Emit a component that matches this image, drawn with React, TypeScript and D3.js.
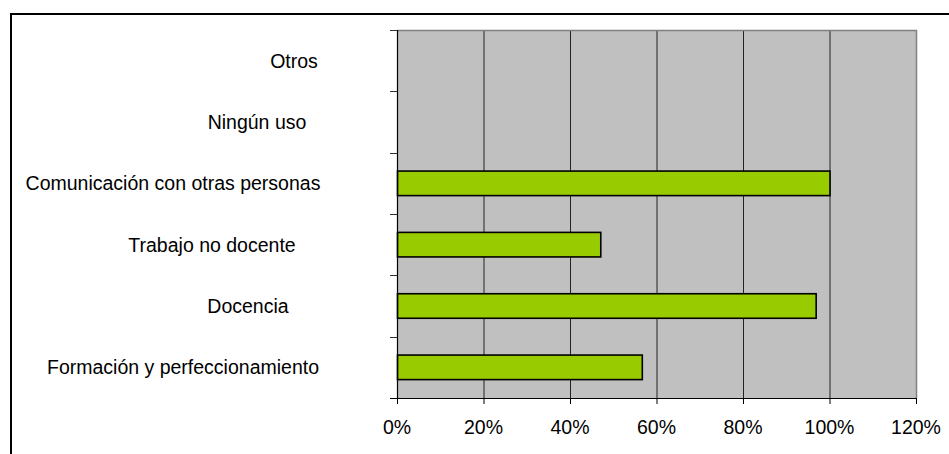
import { useEffect, useRef } from "react";
import * as d3 from "d3";

const categories = [
  "Otros",
  "Ningún uso",
  "Comunicación con otras personas",
  "Trabajo no docente",
  "Docencia",
  "Formación y perfeccionamiento",
];
const values = [0, 0, 100, 47, 96.8, 56.6];
const xTicks = [0, 20, 40, 60, 80, 100, 120];
// Excel-like label shift from common centre (px), layout only
const labelShift = [61, 24, -60, -21, 15, -50];

const W = 949;
const H = 454;
const plot = { left: 397, top: 30, right: 916, bottom: 398 };
const FONT = "'Liberation Sans', Arial, sans-serif";

export default function App() {
  const svgRef = useRef<SVGSVGElement>(null);

  useEffect(() => {
    if (!svgRef.current) return;
    const svg = d3.select(svgRef.current);
    svg.selectAll("*").remove();

    // outer chart frame (extends past the visible window)
    svg
      .append("rect")
      .attr("x", 11)
      .attr("y", 14)
      .attr("width", W + 20)
      .attr("height", H + 20)
      .attr("fill", "#fff")
      .attr("stroke", "#000")
      .attr("stroke-width", 2);

    const x = d3.scaleLinear().domain([0, 120]).range([plot.left, plot.right]);
    const y = d3
      .scaleBand<string>()
      .domain(categories)
      .range([plot.top, plot.bottom])
      .padding(0);

    // plot background
    svg
      .append("rect")
      .attr("x", plot.left)
      .attr("y", plot.top)
      .attr("width", plot.right - plot.left)
      .attr("height", plot.bottom - plot.top)
      .attr("fill", "#c0c0c0");

    // gridlines
    svg
      .append("g")
      .selectAll("line")
      .data(xTicks.filter((t) => t > 0 && t < 120))
      .enter()
      .append("line")
      .attr("x1", (d) => x(d) + 0.5)
      .attr("x2", (d) => x(d) + 0.5)
      .attr("y1", plot.top)
      .attr("y2", plot.bottom)
      .attr("stroke", "#222")
      .attr("stroke-width", 1);

    // plot border top / right
    svg
      .append("path")
      .attr(
        "d",
        `M${plot.left},${plot.top + 0.5}H${plot.right + 0.5}V${plot.bottom}`
      )
      .attr("fill", "none")
      .attr("stroke", "#808080")
      .attr("stroke-width", 1.5);

    // bars
    const barH = y.bandwidth() * 0.4;
    svg
      .append("g")
      .selectAll("rect")
      .data(categories.map((c, i) => ({ c, v: values[i] })).filter((d) => d.v > 0))
      .enter()
      .append("rect")
      .attr("x", x(0) + 0.5)
      .attr("y", (d) => y(d.c)! + (y.bandwidth() - barH) / 2)
      .attr("width", (d) => x(d.v) - x(0))
      .attr("height", barH)
      .attr("fill", "#99cc00")
      .attr("stroke", "#000")
      .attr("stroke-width", 1.6);

    // y axis line + ticks at band boundaries
    const yAxis = svg.append("g");
    yAxis
      .append("line")
      .attr("x1", plot.left + 0.5)
      .attr("x2", plot.left + 0.5)
      .attr("y1", plot.top)
      .attr("y2", plot.bottom)
      .attr("stroke", "#000")
      .attr("stroke-width", 1.2);
    const bounds = categories.map((c) => y(c)!).concat([plot.bottom]);
    yAxis
      .selectAll("line.tick")
      .data(bounds)
      .enter()
      .append("line")
      .attr("class", "tick")
      .attr("x1", plot.left - 7)
      .attr("x2", plot.left)
      .attr("y1", (d) => Math.round(d) + 0.5)
      .attr("y2", (d) => Math.round(d) + 0.5)
      .attr("stroke", "#333")
      .attr("stroke-width", 1);

    // category labels
    yAxis
      .selectAll("text")
      .data(categories)
      .enter()
      .append("text")
      .attr("x", (_d, i) => 233 + labelShift[i])
      .attr("y", (d) => y(d)! + y.bandwidth() / 2)
      .attr("dy", "0.36em")
      .attr("text-anchor", "middle")
      .style("font-family", FONT)
      .style("font-size", "19.5px")
      .style("fill", "#000")
      .text((d) => d);

    // x axis
    const xAxis = svg.append("g");
    xAxis
      .append("line")
      .attr("x1", plot.left - 7)
      .attr("x2", plot.right + 0.5)
      .attr("y1", plot.bottom + 0.5)
      .attr("y2", plot.bottom + 0.5)
      .attr("stroke", "#000")
      .attr("stroke-width", 1.2);
    xAxis
      .selectAll("line.tick")
      .data(xTicks)
      .enter()
      .append("line")
      .attr("class", "tick")
      .attr("x1", (d) => x(d) + 0.5)
      .attr("x2", (d) => x(d) + 0.5)
      .attr("y1", plot.bottom)
      .attr("y2", plot.bottom + 6)
      .attr("stroke", "#000")
      .attr("stroke-width", 1);
    xAxis
      .selectAll("text")
      .data(xTicks)
      .enter()
      .append("text")
      .attr("x", (d) => x(d))
      .attr("y", 434)
      .attr("text-anchor", "middle")
      .style("font-family", FONT)
      .style("font-size", "19.5px")
      .style("fill", "#000")
      .text((d) => `${d}%`);
  }, []);

  return (
    <div style={{ position: "fixed", left: 0, top: 0, width: W, height: H }}>
      <svg ref={svgRef} width={W} height={H} style={{ display: "block" }} />
    </div>
  );
}
